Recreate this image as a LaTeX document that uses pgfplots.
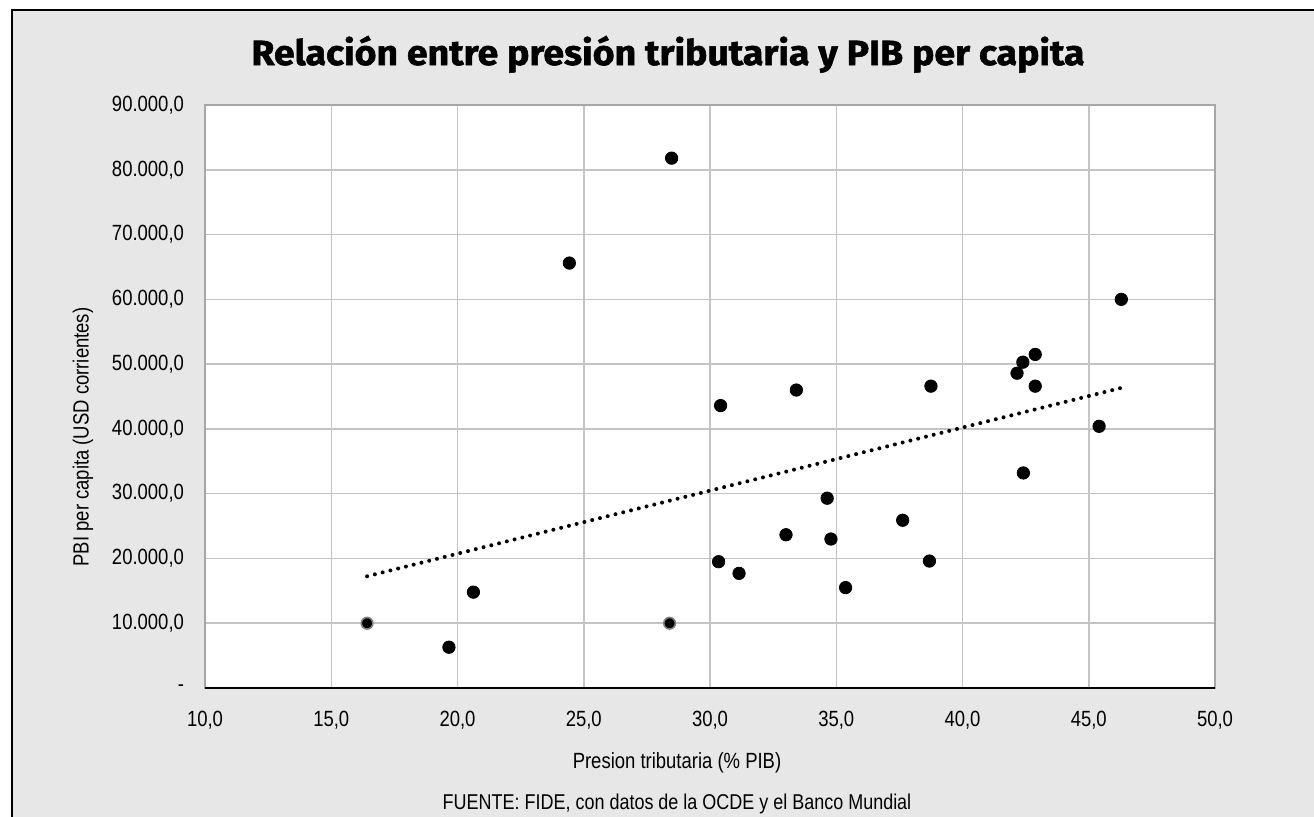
\documentclass[border=0pt]{standalone}
\usepackage{pgfplots}
\pgfplotsset{compat=1.18}
\usepackage{fontspec}
\setmainfont{Liberation Sans}[FakeStretch=0.84]
\newfontfamily\titlefont{Fira Sans}[FakeStretch=1.07, BoldFeatures={FakeBold=1.5}]
\definecolor{bg}{HTML}{E7E7E7}
\definecolor{gridc}{HTML}{C4C4C4}
\definecolor{borderc}{HTML}{A6A6A6}
\begin{document}
\begin{tikzpicture}[x=0.5pt,y=-0.5pt]
\useasboundingbox (0,0) rectangle (1314,816);
\fill[white] (0,0) rectangle (1314,816);
\fill[bg] (12,10) rectangle (1330,830);
\draw[black, line width=1pt] (12,830) -- (12,10) -- (1330,10);
\node[font=\titlefont\bfseries\fontsize{17.5}{20}\selectfont, anchor=base, inner sep=0pt] at (668,65) {Relación entre presión tributaria y PIB per capita};
\node[font=\fontsize{11}{13}\selectfont] at (677,763) {Presion tributaria (\% PIB)};
\node[font=\fontsize{10.7}{13}\selectfont] at (677,804) {FUENTE: FIDE, con datos de la OCDE y el Banco Mundial};
\node[font=\fontsize{11}{13}\selectfont, rotate=90] at (83,437) {PBI per capita (USD corrientes)};
\begin{axis}[
  at={(102.5pt,-344pt)}, anchor=south west,
  scale only axis, width=505pt, height=291.5pt,
  xmin=10, xmax=50, ymin=0, ymax=90000,
  axis background/.style={fill=white},
  grid=major, major grid style={draw=gridc, line width=0.75pt},
  axis line style={draw=borderc, line width=0.8pt},
  major tick length=0pt,
  xtick={10,15,20,25,30,35,40,45,50},
  xticklabels={{10,0},{15,0},{20,0},{25,0},{30,0},{35,0},{40,0},{45,0},{50,0}},
  ytick={0,10000,20000,30000,40000,50000,60000,70000,80000,90000},
  yticklabels={{-},{10.000,0},{20.000,0},{30.000,0},{40.000,0},{50.000,0},{60.000,0},{70.000,0},{80.000,0},{90.000,0}},
  scaled y ticks=false, scaled x ticks=false,
  tick label style={font=\fontsize{11}{13}\selectfont},
  yticklabel style={xshift=-7pt},
  xticklabel style={yshift=-8pt},
  clip=false,
]
\draw[black, line width=1pt] (rel axis cs:0,0) -- (rel axis cs:1,0);
\addplot[black, line width=2pt, line cap=round, dash pattern=on 0pt off 4pt] coordinates {(16.42,17250) (46.36,46400)};
\addplot[only marks, mark=*, mark size=3.1pt, mark options={fill=black, draw=black}] coordinates {
(28.48,81800) (24.43,65600) (46.29,60000) (42.88,51500) (42.39,50300) (42.16,48600)
(42.88,46600) (38.75,46600) (33.42,46000) (30.42,43600) (45.41,40400) (42.41,33200)
(34.64,29300) (37.63,25900) (33.01,23660) (34.79,23000) (30.34,19500) (38.69,19600)
(31.15,17700) (35.37,15500) (20.63,14800) (19.66,6300)
};
\addplot[only marks, mark=*, mark size=2.9pt, mark options={fill=black, draw=gray, line width=0.8pt}] coordinates {
(16.42,10000) (28.40,10000)
};
\end{axis}
\end{tikzpicture}
\end{document}
